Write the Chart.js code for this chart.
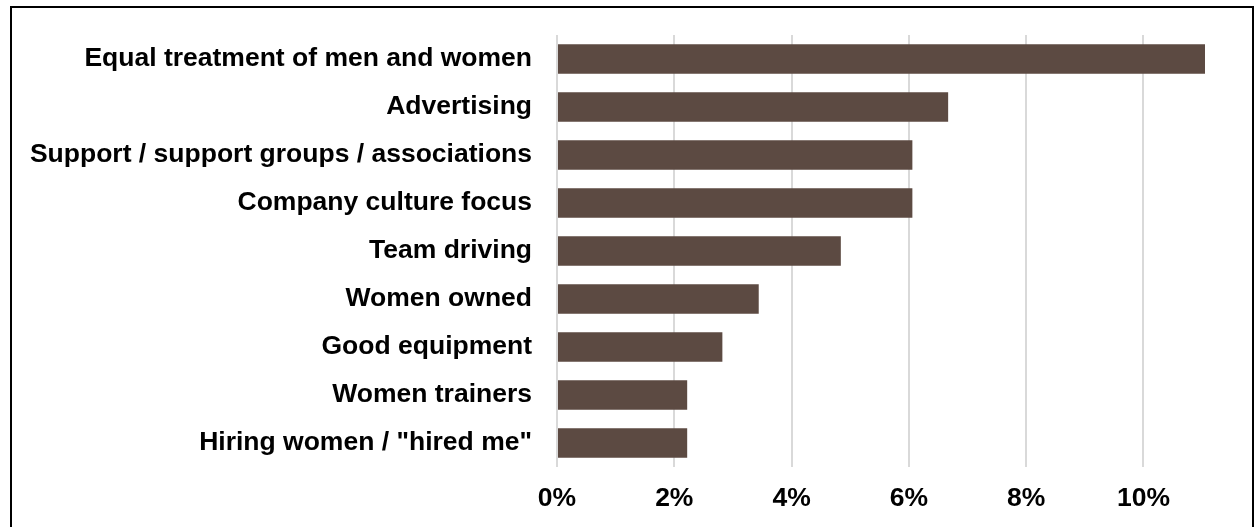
<!DOCTYPE html>
<html>
<head>
<meta charset="utf-8">
<title>Bar chart</title>
<script src="https://cdn.jsdelivr.net/npm/chart.js@4"></script>
<style>
    html, body { margin: 0; padding: 0; background: #fff; overflow: hidden; }
    #wrap { position: relative; width: 1254px; height: 527px; }
    #frame {
        position: absolute; left: 10px; top: 6px;
        width: 1244px; height: 600px;
        box-sizing: border-box;
        border: 2px solid #000;
        pointer-events: none;
    }
    #chart { position: absolute; left: 0; top: 0; }
</style>
</head>
<body>
<div id="wrap">
    <canvas id="chart" width="1254" height="527"></canvas>
    <div id="frame"></div>
</div>
<script>
var reasons = [
    'Equal treatment of men and women',
    'Advertising',
    'Support / support groups / associations',
    'Company culture focus',
    'Team driving',
    'Women owned',
    'Good equipment',
    'Women trainers',
    'Hiring women / "hired me"'
];
var shares = [11.05, 6.67, 6.06, 6.06, 4.84, 3.44, 2.82, 2.22, 2.22];
var tickStep = 2;

var labelFont = { family: '"Liberation Sans", Arial, sans-serif', size: 26.5, weight: 'bold' };

function drawChart(){
    var ctx = document.getElementById('chart');

    new Chart(ctx, {
        type: 'bar',
        data: {
            labels: reasons,
            datasets: [{
                data: shares,
                backgroundColor: '#5c4a42',
                borderWidth: 0,
                barPercentage: 0.616,
                categoryPercentage: 1
            }]
        },
        options: {
            indexAxis: 'y',
            responsive: false,
            animation: false,
            layout: { padding: { left: 0, right: 49, top: 35, bottom: 0 } },
            plugins: {
                legend: { display: false },
                tooltip: { enabled: false }
            },
            scales: {
                x: {
                    min: 0,
                    max: Math.max.apply(null, shares),
                    border: { display: false },
                    grid: { color: '#d9d9d9', lineWidth: 2, drawTicks: false },
                    ticks: {
                        stepSize: tickStep,
                        includeBounds: false,
                        color: '#000',
                        font: labelFont,
                        padding: 16,
                        maxRotation: 0,
                        callback: function(v){ return v + '%'; }
                    },
                    afterFit: function(scale){ scale.height = 60; }
                },
                y: {
                    border: { display: false },
                    grid: { display: false, drawTicks: false },
                    ticks: { color: '#000', font: labelFont, padding: 25 },
                    afterFit: function(scale){
                        scale.width = 557;
                        scale.paddingTop = 0;
                        scale.paddingBottom = 0;
                    }
                }
            }
        }
    });
}

drawChart();
</script>
</body>
</html>
